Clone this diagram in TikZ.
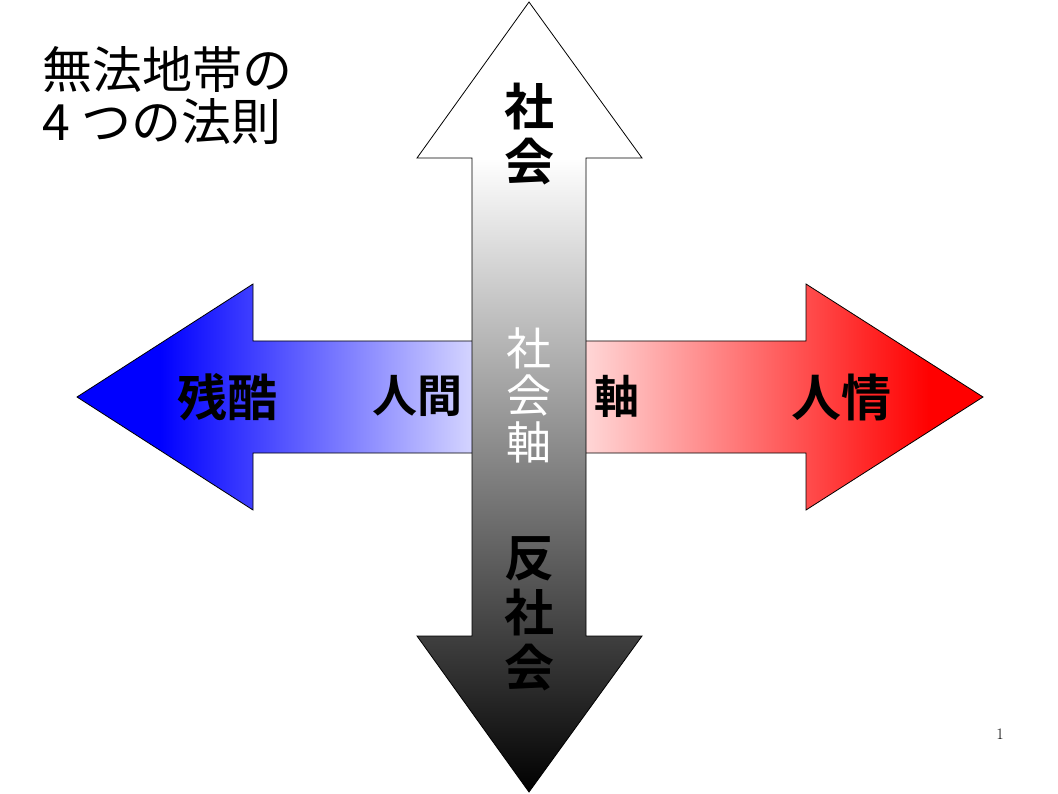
\documentclass[tikz,border=0pt]{standalone}
\usepackage{fontspec}
\usepackage{xcolor}
\usepackage{tikz}
\usetikzlibrary{positioning,calc}
\newfontfamily\jp{Noto Sans CJK JP}
\newfontfamily\jpbold{Noto Sans CJK JP Bold}
\definecolor{CruelBlue}{HTML}{0000FF}
\definecolor{PaleBlue}{HTML}{D4D4FF}
\definecolor{WarmRed}{HTML}{FF0000}
\definecolor{PaleRed}{HTML}{FFD6D6}

\begin{document}
\begin{tikzpicture}[x=1pt,y=-1pt,
  outline/.style={draw=black,line width=0.8pt,line join=miter},
  biglabel/.style={font=\jpbold\fontsize{50}{55}\selectfont,align=center,inner sep=0pt},
  midlabel/.style={font=\jpbold\fontsize{45}{47}\selectfont,align=center,inner sep=0pt}]
\useasboundingbox (0,0) rectangle (1058,794);
\fill[white] (0,0) rectangle (1058,794);
% left arrow
\begin{scope}
\clip (77,397) -- (253,284) -- (253,341) -- (529,341) -- (529,453) -- (253,453) -- (253,510) -- cycle;
\fill[CruelBlue] (70,280) rectangle (160,515);
\shade[left color=CruelBlue,right color=PaleBlue] (160,280) rectangle (472,515);
\fill[PaleBlue] (472,280) rectangle (530,515);
\end{scope}
\draw[outline] (77,397) -- (253,284) -- (253,341) -- (529,341) -- (529,453) -- (253,453) -- (253,510) -- cycle;
% right arrow
\begin{scope}
\clip (983,397) -- (806,284) -- (806,341) -- (529,341) -- (529,453) -- (806,453) -- (806,510) -- cycle;
\fill[PaleRed] (528,280) rectangle (586,515);
\shade[left color=PaleRed,right color=WarmRed] (586,280) rectangle (930,515);
\fill[WarmRed] (930,280) rectangle (990,515);
\end{scope}
\draw[outline] (983,397) -- (806,284) -- (806,341) -- (529,341) -- (529,453) -- (806,453) -- (806,510) -- cycle;
% vertical arrow
\begin{scope}
\clip (529,2) -- (642,158) -- (586,158) -- (586,636) -- (642,636) -- (529,792) -- (417,636) -- (472,636) -- (472,158) -- (417,158) -- cycle;
\fill[white] (410,0) rectangle (650,158);
\shade[top color=white,bottom color=black] (410,158) rectangle (650,794);
\end{scope}
\draw[outline] (529,2) -- (642,158) -- (586,158) -- (586,636) -- (642,636) -- (529,792) -- (417,636) -- (472,636) -- (472,158) -- (417,158) -- cycle;

\node[anchor=north west,align=left,inner sep=0pt,font=\jp\fontsize{50}{52}\selectfont] (title) at (42,46) {無法地帯の\\4\hspace{12pt}つの法則};
\node[biglabel] (society) at (529,134) {社\\会};
\node[biglabel] (antisociety) at (529,614) {反\\社\\会};
\node[font=\jp\fontsize{45}{47}\selectfont,align=center,inner sep=0pt,text=white] (socialaxis) at (529,395) {社\\会\\軸};
\node[biglabel] (cruelty) at (227,397) {残酷};
\node[midlabel] (human) at (417,396) {人間};
\node[midlabel] (axis) at (617,396) {軸};
\node[biglabel] (mercy) at (841,397) {人情};
\node[font=\fontsize{16}{18}\selectfont,inner sep=0pt] (page) at (1000,734) {1};
\end{tikzpicture}
\end{document}
